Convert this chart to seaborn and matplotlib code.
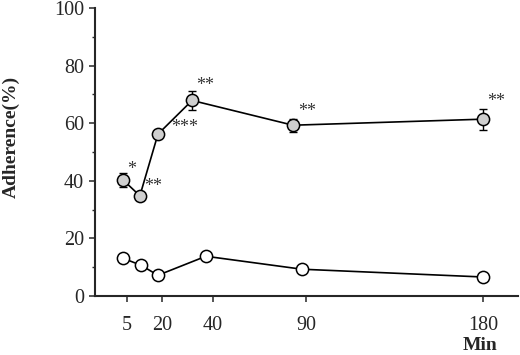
import numpy as np
import pandas as pd
import matplotlib
matplotlib.use('Agg')
import matplotlib.pyplot as plt
import seaborn as sns
from matplotlib.ticker import MultipleLocator

sns.set_style('ticks')
plt.rcParams['font.family'] = ['Liberation Serif', 'DejaVu Serif']

# x positions in minutes as drawn on the chart (axis is not strictly linear)
tick_pos = [4.5, 21.7, 46.8, 92.6, 179.8]
tick_labels = ['5', '20', '40', '90', '180']

gray_x = [2.5, 10.8, 19.7, 36.5, 86.2, 179.8]
gray_y = [40.3, 34.8, 56.2, 67.9, 59.3, 61.4]
gray_err = [2.5, 1.0, 1.0, 3.3, 2.2, 3.6]
gray_sig = ['*', '**', '***', '**', '**', '**']

open_x = [2.5, 11.3, 19.7, 43.3, 90.6, 179.8]
open_y = [13.1, 10.7, 7.2, 13.8, 9.3, 6.6]

# offsets (points) for significance marks
sig_dx = [6.5, 9.5, 19.5, 9.5, 10, 9.5]
sig_dy = [7.5, 6.5, 4.5, 11, 10, 13]

fig = plt.figure(figsize=(5.2, 3.55), dpi=100)
ax = fig.add_axes([95/520, 59/355, 423/520, 288/355])

gdf = pd.DataFrame({'x': gray_x, 'y': gray_y})
odf = pd.DataFrame({'x': open_x, 'y': open_y})

ax.errorbar(gray_x, gray_y, yerr=gray_err, fmt='none', ecolor='black',
            elinewidth=1.0, capsize=3, capthick=1.0, zorder=2)
sns.lineplot(data=gdf, x='x', y='y', ax=ax, color='black', lw=1.2,
             marker='o', markersize=8.8, markerfacecolor='#cfcfcf',
             markeredgecolor='black', markeredgewidth=1.1, zorder=3)
sns.lineplot(data=odf, x='x', y='y', ax=ax, color='black', lw=1.2,
             marker='o', markersize=8.8, markerfacecolor='white',
             markeredgecolor='black', markeredgewidth=1.1, zorder=3)

for x, y, s, dx, dy in zip(gray_x, gray_y, gray_sig, sig_dx, sig_dy):
    ax.annotate(s, (x, y), xytext=(dx, dy), textcoords='offset points',
                ha='center', va='center', fontsize=13, color='#333333')

ax.set_xlim(-11.3, 197)
ax.set_ylim(0, 100)
ax.set_xticks(tick_pos)
ax.set_xticklabels(tick_labels)
ax.yaxis.set_major_locator(MultipleLocator(20))
ax.yaxis.set_minor_locator(MultipleLocator(10))
ax.tick_params(axis='both', which='major', labelsize=14.5, length=4.5, width=1.1, direction='out')
ax.tick_params(axis='y', which='minor', length=2.5, width=1.0)
ax.tick_params(axis='x', pad=10)

for sp in ['top', 'right']:
    ax.spines[sp].set_visible(False)
for sp in ['left', 'bottom']:
    ax.spines[sp].set_linewidth(1.5)

ax.set_ylabel('')
ax.set_xlabel('')
fig.text(11/520, 1 - 137/355, 'Adherence(%)', fontsize=14, fontweight='bold',
         rotation=90, ha='center', va='center')
fig.text(480/520, 1 - 345/355, 'Min', fontsize=14, fontweight='bold', ha='center', va='center')

fig.savefig('out.png', dpi=100)
